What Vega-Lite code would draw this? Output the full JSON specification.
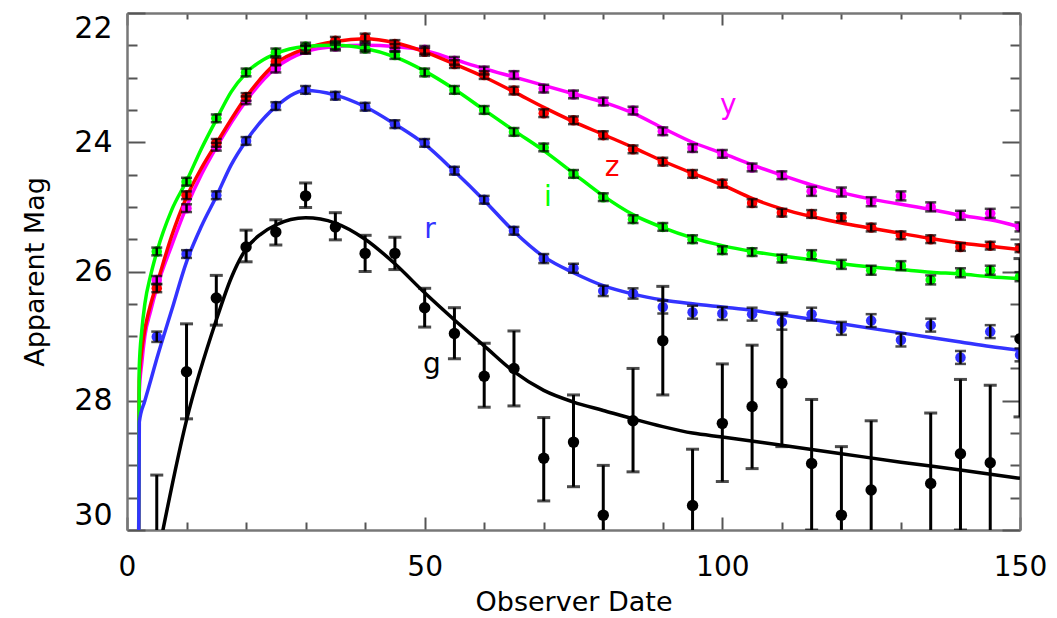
{
  "$schema": "https://vega.github.io/schema/vega-lite/v6.json",
  "width": 893,
  "height": 517,
  "autosize": "none",
  "padding": {"left": 127, "top": 13, "right": 37, "bottom": 88},
  "background": "white",
  "config": {"view": {"stroke": null}, "font": "DejaVu Sans"},
  "datasets": {
    "curves": [
      {"band":"y","t":1.95,"mag":30.5},{"band":"y","t":2.05,"mag":27.9},{"band":"y","t":2.5,"mag":27.4},{"band":"y","t":3,"mag":27.0},{"band":"y","t":4,"mag":26.6},{"band":"y","t":5,"mag":26.25},{"band":"y","t":7.5,"mag":25.6},{"band":"y","t":10,"mag":25.0},{"band":"y","t":12.5,"mag":24.5},{"band":"y","t":15,"mag":24.08},{"band":"y","t":20,"mag":23.36},{"band":"y","t":25,"mag":22.85},{"band":"y","t":30,"mag":22.6},{"band":"y","t":35,"mag":22.52},{"band":"y","t":40,"mag":22.5},{"band":"y","t":45,"mag":22.52},{"band":"y","t":50,"mag":22.58},{"band":"y","t":55,"mag":22.72},{"band":"y","t":60,"mag":22.86},{"band":"y","t":65,"mag":22.99},{"band":"y","t":70,"mag":23.12},{"band":"y","t":75,"mag":23.25},{"band":"y","t":80,"mag":23.38},{"band":"y","t":85,"mag":23.55},{"band":"y","t":90,"mag":23.78},{"band":"y","t":95,"mag":24.0},{"band":"y","t":100,"mag":24.17},{"band":"y","t":105,"mag":24.35},{"band":"y","t":110,"mag":24.51},{"band":"y","t":115,"mag":24.66},{"band":"y","t":120,"mag":24.78},{"band":"y","t":125,"mag":24.88},{"band":"y","t":130,"mag":24.96},{"band":"y","t":135,"mag":25.04},{"band":"y","t":140,"mag":25.13},{"band":"y","t":145,"mag":25.2},{"band":"y","t":150,"mag":25.31},
      {"band":"z","t":1.95,"mag":30.5},{"band":"z","t":2.05,"mag":27.7},{"band":"z","t":2.5,"mag":27.2},{"band":"z","t":3,"mag":26.9},{"band":"z","t":4,"mag":26.5},{"band":"z","t":5,"mag":26.2},{"band":"z","t":7.5,"mag":25.45},{"band":"z","t":10,"mag":24.85},{"band":"z","t":12.5,"mag":24.4},{"band":"z","t":15,"mag":24.02},{"band":"z","t":20,"mag":23.3},{"band":"z","t":25,"mag":22.78},{"band":"z","t":30,"mag":22.55},{"band":"z","t":35,"mag":22.44},{"band":"z","t":40,"mag":22.4},{"band":"z","t":45,"mag":22.46},{"band":"z","t":50,"mag":22.6},{"band":"z","t":55,"mag":22.79},{"band":"z","t":60,"mag":22.99},{"band":"z","t":65,"mag":23.22},{"band":"z","t":70,"mag":23.46},{"band":"z","t":75,"mag":23.68},{"band":"z","t":80,"mag":23.88},{"band":"z","t":85,"mag":24.08},{"band":"z","t":90,"mag":24.29},{"band":"z","t":95,"mag":24.48},{"band":"z","t":100,"mag":24.66},{"band":"z","t":105,"mag":24.87},{"band":"z","t":110,"mag":25.03},{"band":"z","t":115,"mag":25.15},{"band":"z","t":120,"mag":25.25},{"band":"z","t":125,"mag":25.33},{"band":"z","t":130,"mag":25.41},{"band":"z","t":135,"mag":25.49},{"band":"z","t":140,"mag":25.56},{"band":"z","t":145,"mag":25.61},{"band":"z","t":150,"mag":25.66},
      {"band":"i","t":1.95,"mag":30.5},{"band":"i","t":2.05,"mag":27.5},{"band":"i","t":2.5,"mag":26.9},{"band":"i","t":3,"mag":26.5},{"band":"i","t":4,"mag":26.05},{"band":"i","t":5,"mag":25.7},{"band":"i","t":7.5,"mag":25.05},{"band":"i","t":10,"mag":24.6},{"band":"i","t":12.5,"mag":24.1},{"band":"i","t":15,"mag":23.65},{"band":"i","t":17.5,"mag":23.22},{"band":"i","t":20,"mag":22.93},{"band":"i","t":25,"mag":22.63},{"band":"i","t":30,"mag":22.52},{"band":"i","t":35,"mag":22.5},{"band":"i","t":40,"mag":22.55},{"band":"i","t":45,"mag":22.68},{"band":"i","t":50,"mag":22.9},{"band":"i","t":55,"mag":23.18},{"band":"i","t":60,"mag":23.5},{"band":"i","t":65,"mag":23.82},{"band":"i","t":70,"mag":24.13},{"band":"i","t":75,"mag":24.48},{"band":"i","t":80,"mag":24.83},{"band":"i","t":85,"mag":25.12},{"band":"i","t":90,"mag":25.32},{"band":"i","t":95,"mag":25.48},{"band":"i","t":100,"mag":25.6},{"band":"i","t":105,"mag":25.69},{"band":"i","t":110,"mag":25.76},{"band":"i","t":115,"mag":25.82},{"band":"i","t":120,"mag":25.88},{"band":"i","t":125,"mag":25.93},{"band":"i","t":130,"mag":25.97},{"band":"i","t":135,"mag":26.01},{"band":"i","t":140,"mag":26.04},{"band":"i","t":145,"mag":26.08},{"band":"i","t":150,"mag":26.11},
      {"band":"r","t":1.95,"mag":30.5},{"band":"r","t":2.07,"mag":28.33},{"band":"r","t":3,"mag":28.0},{"band":"r","t":4,"mag":27.68},{"band":"r","t":5,"mag":27.35},{"band":"r","t":7.5,"mag":26.6},{"band":"r","t":10,"mag":25.85},{"band":"r","t":12.5,"mag":25.3},{"band":"r","t":15,"mag":24.84},{"band":"r","t":17.5,"mag":24.35},{"band":"r","t":20,"mag":23.98},{"band":"r","t":25,"mag":23.45},{"band":"r","t":30,"mag":23.2},{"band":"r","t":35,"mag":23.27},{"band":"r","t":40,"mag":23.45},{"band":"r","t":45,"mag":23.72},{"band":"r","t":50,"mag":24.03},{"band":"r","t":55,"mag":24.45},{"band":"r","t":60,"mag":24.9},{"band":"r","t":65,"mag":25.38},{"band":"r","t":70,"mag":25.77},{"band":"r","t":75,"mag":26.02},{"band":"r","t":80,"mag":26.22},{"band":"r","t":85,"mag":26.35},{"band":"r","t":90,"mag":26.44},{"band":"r","t":95,"mag":26.5},{"band":"r","t":100,"mag":26.55},{"band":"r","t":105,"mag":26.6},{"band":"r","t":110,"mag":26.67},{"band":"r","t":115,"mag":26.74},{"band":"r","t":120,"mag":26.81},{"band":"r","t":125,"mag":26.88},{"band":"r","t":130,"mag":26.95},{"band":"r","t":135,"mag":27.02},{"band":"r","t":140,"mag":27.09},{"band":"r","t":145,"mag":27.16},{"band":"r","t":150,"mag":27.22},
      {"band":"g","t":5.6,"mag":30.2},{"band":"g","t":10,"mag":28.3},{"band":"g","t":15,"mag":26.75},{"band":"g","t":17.5,"mag":26.1},{"band":"g","t":20,"mag":25.65},{"band":"g","t":22.5,"mag":25.42},{"band":"g","t":25,"mag":25.28},{"band":"g","t":30,"mag":25.17},{"band":"g","t":35,"mag":25.25},{"band":"g","t":40,"mag":25.5},{"band":"g","t":45,"mag":25.88},{"band":"g","t":50,"mag":26.33},{"band":"g","t":55,"mag":26.75},{"band":"g","t":60,"mag":27.15},{"band":"g","t":65,"mag":27.55},{"band":"g","t":70,"mag":27.84},{"band":"g","t":75,"mag":28.02},{"band":"g","t":80,"mag":28.15},{"band":"g","t":85,"mag":28.28},{"band":"g","t":90,"mag":28.4},{"band":"g","t":95,"mag":28.5},{"band":"g","t":100,"mag":28.56},{"band":"g","t":110,"mag":28.69},{"band":"g","t":120,"mag":28.82},{"band":"g","t":130,"mag":28.95},{"band":"g","t":140,"mag":29.07},{"band":"g","t":150,"mag":29.2}
    ],
    "pts": [
      {"band":"y","t":5,"mag":26.13,"lo":26.07,"hi":26.19},{"band":"y","t":10,"mag":25.02,"lo":24.96,"hi":25.08},{"band":"y","t":15,"mag":24.07,"lo":24.01,"hi":24.13},{"band":"y","t":20,"mag":23.35,"lo":23.29,"hi":23.41},{"band":"y","t":25,"mag":22.86,"lo":22.8,"hi":22.92},{"band":"y","t":30,"mag":22.57,"lo":22.51,"hi":22.63},{"band":"y","t":35,"mag":22.52,"lo":22.46,"hi":22.58},{"band":"y","t":40,"mag":22.52,"lo":22.46,"hi":22.58},{"band":"y","t":45,"mag":22.54,"lo":22.48,"hi":22.6},{"band":"y","t":50,"mag":22.57,"lo":22.51,"hi":22.63},{"band":"y","t":55,"mag":22.74,"lo":22.68,"hi":22.8},{"band":"y","t":60,"mag":22.89,"lo":22.83,"hi":22.95},{"band":"y","t":65,"mag":22.96,"lo":22.9,"hi":23.02},{"band":"y","t":70,"mag":23.17,"lo":23.11,"hi":23.23},{"band":"y","t":75,"mag":23.26,"lo":23.2,"hi":23.32},{"band":"y","t":80,"mag":23.37,"lo":23.31,"hi":23.43},{"band":"y","t":85,"mag":23.51,"lo":23.45,"hi":23.57},{"band":"y","t":90,"mag":23.83,"lo":23.77,"hi":23.89},{"band":"y","t":95,"mag":24.09,"lo":24.03,"hi":24.15},{"band":"y","t":100,"mag":24.18,"lo":24.12,"hi":24.24},{"band":"y","t":105,"mag":24.39,"lo":24.33,"hi":24.45},{"band":"y","t":110,"mag":24.51,"lo":24.45,"hi":24.57},{"band":"y","t":115,"mag":24.76,"lo":24.69,"hi":24.83},{"band":"y","t":120,"mag":24.77,"lo":24.7,"hi":24.84},{"band":"y","t":125,"mag":24.92,"lo":24.85,"hi":24.99},{"band":"y","t":130,"mag":24.83,"lo":24.76,"hi":24.9},{"band":"y","t":135,"mag":25.0,"lo":24.93,"hi":25.07},{"band":"y","t":140,"mag":25.13,"lo":25.06,"hi":25.2},{"band":"y","t":145,"mag":25.1,"lo":25.03,"hi":25.17},{"band":"y","t":150,"mag":25.31,"lo":25.24,"hi":25.38},
      {"band":"z","t":5,"mag":26.26,"lo":26.2,"hi":26.32},{"band":"z","t":10,"mag":24.82,"lo":24.76,"hi":24.88},{"band":"z","t":15,"mag":24.01,"lo":23.95,"hi":24.07},{"band":"z","t":20,"mag":23.3,"lo":23.24,"hi":23.36},{"band":"z","t":25,"mag":22.75,"lo":22.69,"hi":22.81},{"band":"z","t":30,"mag":22.56,"lo":22.5,"hi":22.62},{"band":"z","t":35,"mag":22.43,"lo":22.37,"hi":22.49},{"band":"z","t":40,"mag":22.38,"lo":22.32,"hi":22.44},{"band":"z","t":45,"mag":22.48,"lo":22.42,"hi":22.54},{"band":"z","t":50,"mag":22.6,"lo":22.54,"hi":22.66},{"band":"z","t":55,"mag":22.79,"lo":22.73,"hi":22.85},{"band":"z","t":60,"mag":22.96,"lo":22.9,"hi":23.02},{"band":"z","t":65,"mag":23.2,"lo":23.14,"hi":23.26},{"band":"z","t":70,"mag":23.55,"lo":23.49,"hi":23.61},{"band":"z","t":75,"mag":23.66,"lo":23.6,"hi":23.72},{"band":"z","t":80,"mag":23.89,"lo":23.83,"hi":23.95},{"band":"z","t":85,"mag":24.11,"lo":24.05,"hi":24.17},{"band":"z","t":90,"mag":24.3,"lo":24.24,"hi":24.36},{"band":"z","t":95,"mag":24.49,"lo":24.43,"hi":24.55},{"band":"z","t":100,"mag":24.64,"lo":24.58,"hi":24.7},{"band":"z","t":105,"mag":24.94,"lo":24.88,"hi":25.0},{"band":"z","t":110,"mag":25.09,"lo":25.03,"hi":25.15},{"band":"z","t":115,"mag":25.11,"lo":25.05,"hi":25.17},{"band":"z","t":120,"mag":25.16,"lo":25.1,"hi":25.22},{"band":"z","t":125,"mag":25.32,"lo":25.26,"hi":25.38},{"band":"z","t":130,"mag":25.44,"lo":25.38,"hi":25.5},{"band":"z","t":135,"mag":25.5,"lo":25.44,"hi":25.56},{"band":"z","t":140,"mag":25.62,"lo":25.56,"hi":25.68},{"band":"z","t":145,"mag":25.6,"lo":25.54,"hi":25.66},{"band":"z","t":150,"mag":25.64,"lo":25.58,"hi":25.7},
      {"band":"i","t":5,"mag":25.69,"lo":25.63,"hi":25.75},{"band":"i","t":10,"mag":24.61,"lo":24.55,"hi":24.67},{"band":"i","t":15,"mag":23.63,"lo":23.57,"hi":23.69},{"band":"i","t":20,"mag":22.92,"lo":22.86,"hi":22.98},{"band":"i","t":25,"mag":22.61,"lo":22.55,"hi":22.67},{"band":"i","t":30,"mag":22.52,"lo":22.46,"hi":22.58},{"band":"i","t":35,"mag":22.5,"lo":22.44,"hi":22.56},{"band":"i","t":40,"mag":22.55,"lo":22.49,"hi":22.61},{"band":"i","t":45,"mag":22.65,"lo":22.59,"hi":22.71},{"band":"i","t":50,"mag":22.92,"lo":22.86,"hi":22.98},{"band":"i","t":55,"mag":23.19,"lo":23.13,"hi":23.25},{"band":"i","t":60,"mag":23.5,"lo":23.44,"hi":23.56},{"band":"i","t":65,"mag":23.84,"lo":23.78,"hi":23.9},{"band":"i","t":70,"mag":24.08,"lo":24.02,"hi":24.14},{"band":"i","t":75,"mag":24.49,"lo":24.43,"hi":24.55},{"band":"i","t":80,"mag":24.85,"lo":24.79,"hi":24.91},{"band":"i","t":85,"mag":25.19,"lo":25.13,"hi":25.25},{"band":"i","t":90,"mag":25.31,"lo":25.25,"hi":25.37},{"band":"i","t":95,"mag":25.5,"lo":25.44,"hi":25.56},{"band":"i","t":100,"mag":25.67,"lo":25.61,"hi":25.73},{"band":"i","t":105,"mag":25.7,"lo":25.64,"hi":25.76},{"band":"i","t":110,"mag":25.8,"lo":25.74,"hi":25.86},{"band":"i","t":115,"mag":25.74,"lo":25.67,"hi":25.81},{"band":"i","t":120,"mag":25.89,"lo":25.82,"hi":25.96},{"band":"i","t":125,"mag":25.98,"lo":25.91,"hi":26.05},{"band":"i","t":130,"mag":25.91,"lo":25.84,"hi":25.98},{"band":"i","t":135,"mag":26.13,"lo":26.06,"hi":26.2},{"band":"i","t":140,"mag":26.02,"lo":25.95,"hi":26.09},{"band":"i","t":145,"mag":25.98,"lo":25.91,"hi":26.05},{"band":"i","t":150,"mag":26.08,"lo":26.01,"hi":26.15},
      {"band":"r","t":5,"mag":27.01,"lo":26.93,"hi":27.09},{"band":"r","t":10,"mag":25.73,"lo":25.67,"hi":25.79},{"band":"r","t":15,"mag":24.82,"lo":24.76,"hi":24.88},{"band":"r","t":20,"mag":23.98,"lo":23.92,"hi":24.04},{"band":"r","t":25,"mag":23.44,"lo":23.38,"hi":23.5},{"band":"r","t":30,"mag":23.19,"lo":23.13,"hi":23.25},{"band":"r","t":35,"mag":23.28,"lo":23.22,"hi":23.34},{"band":"r","t":40,"mag":23.45,"lo":23.39,"hi":23.51},{"band":"r","t":45,"mag":23.72,"lo":23.66,"hi":23.78},{"band":"r","t":50,"mag":24.01,"lo":23.95,"hi":24.07},{"band":"r","t":55,"mag":24.44,"lo":24.38,"hi":24.5},{"band":"r","t":60,"mag":24.89,"lo":24.83,"hi":24.95},{"band":"r","t":65,"mag":25.37,"lo":25.31,"hi":25.43},{"band":"r","t":70,"mag":25.8,"lo":25.73,"hi":25.87},{"band":"r","t":75,"mag":25.95,"lo":25.88,"hi":26.02},{"band":"r","t":80,"mag":26.3,"lo":26.22,"hi":26.38},{"band":"r","t":85,"mag":26.34,"lo":26.26,"hi":26.42},{"band":"r","t":90,"mag":26.55,"lo":26.45,"hi":26.65},{"band":"r","t":95,"mag":26.63,"lo":26.53,"hi":26.73},{"band":"r","t":100,"mag":26.65,"lo":26.55,"hi":26.75},{"band":"r","t":105,"mag":26.66,"lo":26.56,"hi":26.76},{"band":"r","t":110,"mag":26.78,"lo":26.66,"hi":26.9},{"band":"r","t":115,"mag":26.66,"lo":26.56,"hi":26.76},{"band":"r","t":120,"mag":26.88,"lo":26.78,"hi":26.98},{"band":"r","t":125,"mag":26.76,"lo":26.66,"hi":26.86},{"band":"r","t":130,"mag":27.06,"lo":26.96,"hi":27.16},{"band":"r","t":135,"mag":26.83,"lo":26.73,"hi":26.93},{"band":"r","t":140,"mag":27.33,"lo":27.23,"hi":27.43},{"band":"r","t":145,"mag":26.93,"lo":26.83,"hi":27.03},{"band":"r","t":150,"mag":27.29,"lo":27.19,"hi":27.39}
    ],
    "gpts": [
      {"band":"g","t":5,"mag":30.1,"lo":29.15,"hi":31.0},{"band":"g","t":10,"mag":27.55,"lo":26.81,"hi":28.28},{"band":"g","t":15,"mag":26.41,"lo":26.06,"hi":26.83},{"band":"g","t":20,"mag":25.62,"lo":25.36,"hi":25.85},{"band":"g","t":25,"mag":25.39,"lo":25.2,"hi":25.59},{"band":"g","t":30,"mag":24.83,"lo":24.63,"hi":25.01},{"band":"g","t":35,"mag":25.31,"lo":25.09,"hi":25.51},{"band":"g","t":40,"mag":25.72,"lo":25.44,"hi":26.0},{"band":"g","t":45,"mag":25.72,"lo":25.47,"hi":25.97},{"band":"g","t":50,"mag":26.56,"lo":26.26,"hi":26.86},{"band":"g","t":55,"mag":26.96,"lo":26.56,"hi":27.35},{"band":"g","t":60,"mag":27.62,"lo":27.11,"hi":28.1},{"band":"g","t":65,"mag":27.5,"lo":26.92,"hi":28.08},{"band":"g","t":70,"mag":28.89,"lo":28.26,"hi":29.55},{"band":"g","t":75,"mag":28.64,"lo":27.91,"hi":29.33},{"band":"g","t":80,"mag":29.77,"lo":29.0,"hi":30.5},{"band":"g","t":85,"mag":28.31,"lo":27.5,"hi":29.1},{"band":"g","t":90,"mag":27.07,"lo":26.23,"hi":27.91},{"band":"g","t":95,"mag":29.62,"lo":28.75,"hi":30.5},{"band":"g","t":100,"mag":28.35,"lo":27.43,"hi":29.25},{"band":"g","t":105,"mag":28.09,"lo":27.14,"hi":29.05},{"band":"g","t":110,"mag":27.73,"lo":26.64,"hi":28.71},{"band":"g","t":115,"mag":28.97,"lo":27.98,"hi":30.0},{"band":"g","t":120,"mag":29.77,"lo":28.71,"hi":30.8},{"band":"g","t":125,"mag":29.38,"lo":28.31,"hi":30.5},{"band":"g","t":135,"mag":29.28,"lo":28.19,"hi":30.4},{"band":"g","t":140,"mag":28.82,"lo":27.67,"hi":30.0},{"band":"g","t":145,"mag":28.96,"lo":27.76,"hi":30.2},{"band":"g","t":150,"mag":27.04,"lo":25.8,"hi":28.25}
    ],
    "labels": [
      {"band":"y","t":101,"mag":23.44,"text":"y"},
      {"band":"z","t":81.5,"mag":24.4,"text":"z"},
      {"band":"i","t":70.7,"mag":24.86,"text":"i"},
      {"band":"r","t":50.9,"mag":25.36,"text":"r"},
      {"band":"g","t":51.2,"mag":27.45,"text":"g"}
    ]
  },
  "resolve": {"axis": {"x": "independent", "y": "independent"}},
  "layer": [
    {
      "data": {"name": "curves"},
      "mark": {"type": "line", "clip": true, "interpolate": "monotone", "strokeWidth": 3.5},
      "encoding": {
        "x": {"field": "t", "type": "quantitative",
          "scale": {"domain": [0, 150], "nice": false, "zero": false, "padding": 0},
          "axis": {"orient": "bottom", "values": [0,10,20,30,40,50,60,70,80,90,100,110,120,130,140,150],
            "labelExpr": "datum.value % 50 === 0 ? datum.label : ''",
            "tickSize": {"condition": {"test": "datum.value % 50 === 0", "value": -13}, "value": -8},
            "tickColor": "#555", "tickWidth": 2, "domainColor": "#777", "domainWidth": 2.5,
            "grid": false, "labelFontSize": 28, "labelColor": "black", "labelPadding": 36, "labelFlush": false, "labelOverlap": false, "labelFont": "DejaVu Sans",
            "title": "Observer Date", "titleFontSize": 27, "titleFontWeight": "normal", "titleColor": "black", "titlePadding": 3, "titleFont": "DejaVu Sans"}},
        "y": {"field": "mag", "type": "quantitative",
          "scale": {"domain": [22, 30], "nice": false, "zero": false, "reverse": true, "padding": 0},
          "axis": {"orient": "left", "values": [22,22.5,23,23.5,24,24.5,25,25.5,26,26.5,27,27.5,28,28.5,29,29.5,30],
            "labelExpr": "datum.value % 2 === 0 ? format(datum.value, 'd') : ''",
            "tickSize": {"condition": {"test": "datum.value % 2 === 0", "value": -18}, "value": -10},
            "tickColor": "#555", "tickWidth": 2, "domainColor": "#777", "domainWidth": 2.5,
            "grid": false, "labelFontSize": 30, "labelColor": "black", "labelPadding": 33, "labelFlush": true, "labelFont": "DejaVu Sans",
            "title": "Apparent Mag", "titleFontSize": 27, "titleFontWeight": "normal", "titleColor": "black", "titlePadding": 24, "titleFont": "DejaVu Sans"}},
        "color": {"field": "band", "type": "nominal",
          "scale": {"domain": ["y","z","i","r","g"], "range": ["#ff00ff","#ff0000","#00ff00","#3333ff","#000000"]},
          "legend": null}
      }
    },
    {
      "data": {"name": "pts"},
      "mark": {"type": "circle", "clip": true, "size": 110, "opacity": 1},
      "encoding": {
        "x": {"field": "t", "type": "quantitative",
          "axis": {"orient": "top", "values": [0,10,20,30,40,50,60,70,80,90,100,110,120,130,140,150],
            "labels": false, "title": null,
            "tickSize": {"condition": {"test": "datum.value % 50 === 0", "value": -12}, "value": -6},
            "tickColor": "#555", "tickWidth": 2, "domainColor": "#777", "domainWidth": 2.5, "grid": false}},
        "y": {"field": "mag", "type": "quantitative",
          "axis": {"orient": "right", "values": [22,22.5,23,23.5,24,24.5,25,25.5,26,26.5,27,27.5,28,28.5,29,29.5,30],
            "labels": false, "title": null,
            "tickSize": {"condition": {"test": "datum.value % 2 === 0", "value": -18}, "value": -10},
            "tickColor": "#555", "tickWidth": 2, "domainColor": "#777", "domainWidth": 2.5, "grid": false}},
        "color": {"field": "band", "type": "nominal", "legend": null}
      }
    },
    {
      "data": {"name": "pts"},
      "mark": {"type": "rule", "clip": true, "color": "black", "strokeWidth": 2.5},
      "encoding": {
        "x": {"field": "t", "type": "quantitative", "axis": null},
        "y": {"field": "lo", "type": "quantitative", "axis": null},
        "y2": {"field": "hi"}
      }
    },
    {
      "data": {"name": "pts"},
      "mark": {"type": "tick", "clip": true, "color": "black", "orient": "horizontal", "size": 11, "thickness": 2.5},
      "encoding": {
        "x": {"field": "t", "type": "quantitative", "axis": null},
        "y": {"field": "lo", "type": "quantitative", "axis": null}
      }
    },
    {
      "data": {"name": "pts"},
      "mark": {"type": "tick", "clip": true, "color": "black", "orient": "horizontal", "size": 11, "thickness": 2.5},
      "encoding": {
        "x": {"field": "t", "type": "quantitative", "axis": null},
        "y": {"field": "hi", "type": "quantitative", "axis": null}
      }
    },
    {
      "data": {"name": "gpts"},
      "mark": {"type": "rule", "clip": true, "color": "black", "strokeWidth": 3},
      "encoding": {
        "x": {"field": "t", "type": "quantitative", "axis": null},
        "y": {"field": "lo", "type": "quantitative", "axis": null},
        "y2": {"field": "hi"}
      }
    },
    {
      "data": {"name": "gpts"},
      "mark": {"type": "tick", "clip": true, "color": "black", "orient": "horizontal", "size": 13, "thickness": 3},
      "encoding": {
        "x": {"field": "t", "type": "quantitative", "axis": null},
        "y": {"field": "lo", "type": "quantitative", "axis": null}
      }
    },
    {
      "data": {"name": "gpts"},
      "mark": {"type": "tick", "clip": true, "color": "black", "orient": "horizontal", "size": 13, "thickness": 3},
      "encoding": {
        "x": {"field": "t", "type": "quantitative", "axis": null},
        "y": {"field": "hi", "type": "quantitative", "axis": null}
      }
    },
    {
      "data": {"name": "gpts"},
      "mark": {"type": "circle", "clip": true, "size": 130, "opacity": 1, "color": "black"},
      "encoding": {
        "x": {"field": "t", "type": "quantitative", "axis": null},
        "y": {"field": "mag", "type": "quantitative", "axis": null}
      }
    },
    {
      "data": {"name": "labels"},
      "mark": {"type": "text", "fontSize": 28, "font": "DejaVu Sans", "align": "center", "baseline": "middle"},
      "encoding": {
        "x": {"field": "t", "type": "quantitative", "axis": null},
        "y": {"field": "mag", "type": "quantitative", "axis": null},
        "text": {"field": "text"},
        "color": {"field": "band", "type": "nominal", "legend": null}
      }
    }
  ]
}
